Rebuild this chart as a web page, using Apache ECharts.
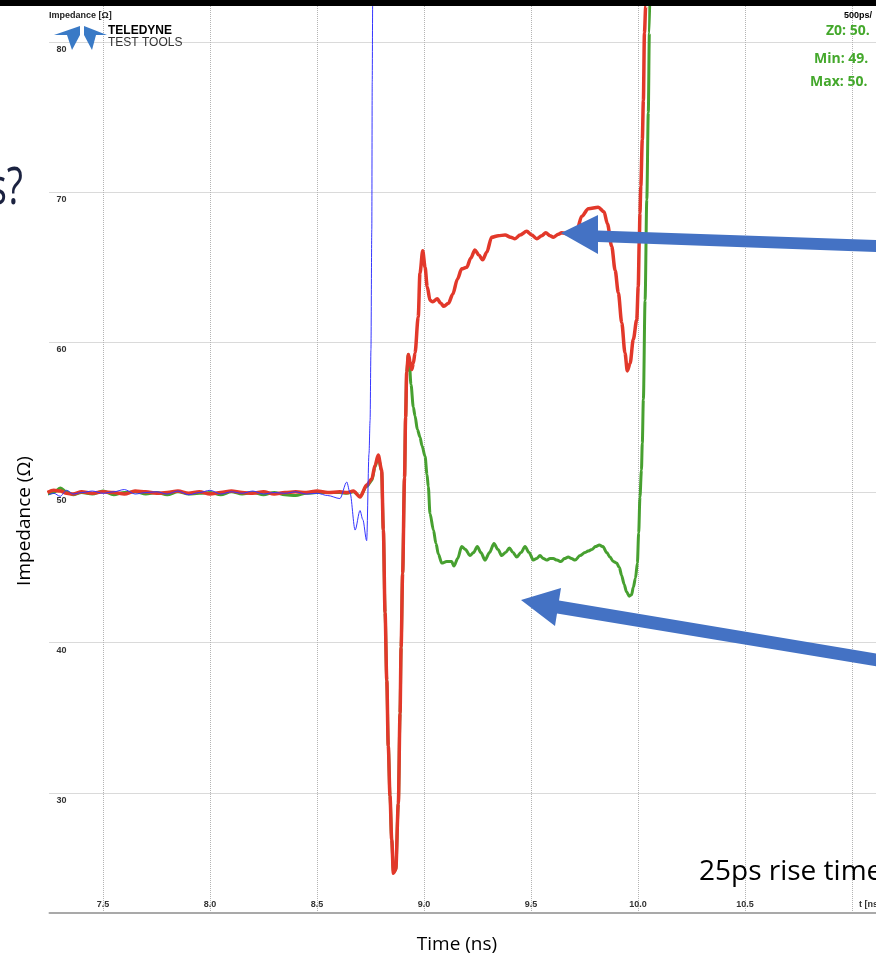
<!DOCTYPE html>
<html><head><meta charset="utf-8">
<script src="https://cdn.jsdelivr.net/npm/echarts@6/dist/echarts.min.js"></script>
<style>html,body{margin:0;padding:0;background:#fff}#c{width:876px;height:959px}</style>
</head><body><div id="c"></div>
<script>
// ---- data (time in ns, impedance in ohm) ----
const baseT = [7.24, 7.27, 7.30, 7.33, 7.36, 7.40, 7.45, 7.50, 7.55, 7.60, 7.65, 7.70, 7.75, 7.80, 7.85, 7.90, 7.95, 8.00, 8.05, 8.10, 8.15, 8.20, 8.25, 8.30, 8.35, 8.40, 8.45, 8.50, 8.55];
const redBaseZ   = [50.0, 50.15, 50.1, 49.95, 49.9, 50.05, 49.95, 50.05, 50.0, 49.9, 50.1, 50.05, 49.95, 50.0, 50.1, 49.95, 50.05, 49.9, 50.0, 50.1, 50.0, 49.95, 50.05, 49.9, 50.0, 50.05, 50.0, 50.1, 50.0];
const greenBaseZ = [49.9, 50.0, 50.3, 50.05, 49.85, 50.0, 49.9, 50.1, 49.85, 50.0, 50.05, 49.9, 50.0, 49.85, 50.05, 49.9, 49.95, 50.0, 49.85, 50.05, 49.9, 50.0, 49.85, 50.0, 49.85, 49.8, 49.95, 50.0, 50.0];
const blueBaseZ  = [49.8, 49.95, 49.75, 50.15, 49.9, 50.0, 50.1, 49.95, 50.05, 50.2, 49.9, 50.0, 50.05, 49.9, 50.1, 49.85, 50.0, 50.15, 49.9, 50.05, 49.95, 50.1, 49.9, 50.0, 49.95, 50.05, 49.9, 49.95, 49.8];

const redT = [8.607, 8.640, 8.670, 8.701, 8.732, 8.756, 8.771, 8.786, 8.802, 8.810, 8.818, 8.826, 8.833, 8.841, 8.849, 8.857, 8.868, 8.880, 8.888, 8.893, 8.900, 8.909, 8.914, 8.919, 8.927, 8.935, 8.943, 8.950, 8.958, 8.973, 8.981, 8.994, 9.005, 9.015, 9.028, 9.041, 9.062, 9.078, 9.093, 9.114, 9.134, 9.156, 9.176, 9.200, 9.218, 9.238, 9.257, 9.274, 9.293, 9.316, 9.347, 9.379, 9.405, 9.425, 9.449, 9.480, 9.503, 9.527, 9.550, 9.569, 9.589, 9.604, 9.628, 9.643, 9.682, 9.715, 9.737, 9.768, 9.814, 9.841, 9.857, 9.877, 9.893, 9.908, 9.924, 9.939, 9.950, 9.963, 9.978, 9.994, 10.001, 10.006, 10.009, 10.013, 10.020, 10.025, 10.030, 10.036, 10.040];
const redZ = [50.05, 50.0, 50.1, 49.7, 50.5, 50.9, 51.8, 52.5, 51.5, 47.5, 42.0, 37.5, 33.1, 29.8, 26.9, 24.65, 24.9, 29.3, 35.3, 39.7, 44.6, 51.0, 55.0, 58.0, 59.2, 58.7, 58.2, 58.6, 59.3, 61.7, 64.6, 66.1, 65.0, 63.7, 62.8, 62.7, 62.9, 62.6, 62.4, 62.6, 63.2, 64.2, 64.9, 65.0, 65.6, 66.15, 65.8, 65.5, 66.0, 67.0, 67.1, 67.15, 67.0, 66.9, 67.15, 67.4, 67.15, 66.9, 67.1, 67.3, 67.1, 67.0, 67.2, 67.3, 67.2, 67.5, 68.4, 68.9, 69.0, 68.7, 67.9, 66.4, 64.8, 63.3, 61.3, 59.3, 58.1, 58.6, 60.2, 61.5, 63.7, 66.8, 68.6, 70.4, 73.5, 76.1, 80.6, 82.4, 86.0];

const greenT = [8.607, 8.640, 8.670, 8.701, 8.732, 8.756, 8.771, 8.786, 8.802, 8.810, 8.818, 8.826, 8.833, 8.841, 8.849, 8.857, 8.868, 8.880, 8.888, 8.893, 8.900, 8.909, 8.914, 8.919, 8.927, 8.931, 8.939, 8.950, 8.958, 8.969, 8.981, 8.991, 9.005, 9.014, 9.020, 9.028, 9.044, 9.056, 9.067, 9.083, 9.106, 9.129, 9.140, 9.157, 9.176, 9.194, 9.215, 9.231, 9.249, 9.266, 9.285, 9.306, 9.327, 9.346, 9.363, 9.381, 9.399, 9.416, 9.433, 9.453, 9.472, 9.491, 9.511, 9.526, 9.542, 9.558, 9.573, 9.589, 9.604, 9.621, 9.640, 9.656, 9.674, 9.689, 9.706, 9.729, 9.752, 9.766, 9.784, 9.801, 9.819, 9.836, 9.854, 9.869, 9.885, 9.900, 9.913, 9.923, 9.935, 9.946, 9.959, 9.970, 9.978, 9.988, 9.997, 10.003, 10.009, 10.016, 10.020, 10.025, 10.033, 10.041, 10.048, 10.053, 10.058];
const greenZ = [50.0, 49.95, 50.05, 49.75, 50.4, 50.8, 51.7, 52.4, 51.4, 47.5, 42.0, 37.5, 33.1, 29.8, 26.9, 24.7, 24.9, 29.3, 35.3, 39.7, 44.6, 51.0, 55.0, 58.0, 59.2, 58.8, 57.2, 55.7, 55.1, 54.2, 53.7, 53.1, 52.4, 51.2, 50.4, 48.6, 47.5, 46.6, 45.9, 45.3, 45.4, 45.4, 45.1, 45.6, 46.4, 46.2, 45.8, 46.0, 46.4, 46.0, 45.5, 46.0, 46.6, 46.2, 45.8, 46.0, 46.3, 46.0, 45.7, 46.0, 46.4, 46.0, 45.5, 45.6, 45.8, 45.6, 45.5, 45.6, 45.6, 45.5, 45.4, 45.6, 45.7, 45.6, 45.5, 45.8, 46.0, 46.1, 46.2, 46.4, 46.5, 46.4, 46.0, 45.7, 45.4, 45.3, 45.0, 44.5, 43.9, 43.4, 43.1, 43.2, 43.7, 44.3, 45.3, 47.3, 49.7, 51.5, 53.3, 56.2, 62.8, 69.5, 75.3, 80.6, 86.0];

const blueT = [8.607, 8.639, 8.654, 8.678, 8.701, 8.714, 8.732, 8.743, 8.748, 8.752, 8.756, 8.758, 8.760, 8.762];
const blueZ = [49.6, 50.7, 50.0, 47.5, 48.8, 48.2, 46.8, 52.6, 54.8, 59.5, 67.5, 77.3, 82.4, 86.0];

const yTicks = [30, 40, 50, 60, 70, 80];
const xTicks = [7.5, 8.0, 8.5, 9.0, 9.5, 10.0, 10.5, 11.0];

// ---- build ----
function zip(t, z) { return t.map((v, i) => [v, z[i]]); }
const redData = zip(baseT, redBaseZ).concat(zip(redT, redZ));
const greenData = zip(baseT, greenBaseZ).concat(zip(greenT, greenZ));
const blueData = zip(baseT, blueBaseZ).concat(zip(blueT, blueZ));

const chart = echarts.init(document.getElementById('c'), null, {renderer: 'canvas'});
const T = 'rgba(0,0,0,0)', G = '#b4b4b4';
const txt = (x, y, text, o) => Object.assign({
  type: 'text', x: x, y: y, z: 100,
  style: Object.assign({text: text, fill: '#000', align: 'left', textAlign: 'left', verticalAlign: 'middle', textVerticalAlign: 'middle',
    fontFamily: 'Open Sans', fontSize: 12}, o.style)
}, o.el || {});
const poly = (pts, fill) => ({type: 'polygon', z: 100, shape: {points: pts}, style: {fill: fill}});

chart.setOption({
  animation: false,
  backgroundColor: '#fff',
  grid: {left: 49.5, right: 0, top: 6, bottom: 46, containLabel: false, outerBoundsMode: 'none'},
  xAxis: {
    type: 'value', min: 7.25, max: 11.112, interval: 0.25,
    axisLine: {show: true, lineStyle: {color: '#a9a9a9', width: 2}},
    axisTick: {show: false},
    splitLine: {show: true, lineStyle: {color: [T, G], type: 'dotted', width: 1}},
    axisLabel: {
      inside: true, margin: 4, color: '#333', fontSize: 9, fontWeight: 'bold', fontFamily: 'Liberation Sans',
      hideOverlap: false,
      formatter: function (v) {
        const hit = xTicks.find(t => Math.abs(t - v) < 1e-6);
        if (hit === undefined) return '';
        if (hit === 11.0) return '{u|t [ns]}';
        return hit.toFixed(1);
      },
      rich: {u: {fontSize: 9, fontWeight: 'bold', color: '#333', fontFamily: 'Liberation Sans', padding: [0, 0, 0, 36]}}
    }
  },
  yAxis: {
    type: 'value', min: 22, max: 82.4, interval: 2,
    axisLine: {show: false}, axisTick: {show: false},
    splitLine: {show: true, lineStyle: {color: [T, T, T, T, G], type: 'dotted', width: 1}},
    axisLabel: {
      inside: true, margin: 7, color: '#333', fontSize: 9, fontWeight: 'bold', fontFamily: 'Liberation Sans',
      verticalAlign: 'top', padding: [3, 0, 0, 0],
      formatter: function (v) { return yTicks.indexOf(v) >= 0 ? String(v) : ''; }
    }
  },
  series: [
    {type: 'line', name: 'green', data: greenData, symbol: 'none', clip: true, z: 2,
      smooth: 0.3, smoothMonotone: 'x',
      lineStyle: {color: '#47a030', width: 3}},
    {type: 'line', name: 'red', data: redData, symbol: 'none', clip: true, z: 3,
      smooth: 0.3, smoothMonotone: 'x',
      lineStyle: {color: '#e2382a', width: 3.5}},
    {type: 'line', name: 'blue', data: blueData, symbol: 'none', clip: true, z: 4,
      smooth: 0.3, smoothMonotone: 'x',
      lineStyle: {color: '#3535ff', width: 1}}
  ],
  graphic: {elements: [
    {type: 'rect', z: 100, shape: {x: 0, y: 0, width: 876, height: 6}, style: {fill: '#000'}},
    txt(23, 189, 's?', {style: {fontSize: 52, fill: '#1b2240', align: 'right', textAlign: 'right'}, el: {scaleX: 0.72, originX: 0}}),
    txt(25, 521, 'Impedance (Ω)', {style: {fontSize: 19, align: 'center', textAlign: 'center'}, el: {rotation: Math.PI / 2}}),
    txt(457, 945, 'Time (ns)', {style: {fontSize: 19, align: 'center', textAlign: 'center'}}),
    txt(699, 872, '25ps rise time', {style: {fontSize: 28}}),
    txt(49, 16, 'Impedance [Ω]', {style: {fontSize: 9, fontWeight: 'bold', fontFamily: 'Liberation Sans', fill: '#222'}}),
    poly([[54, 35], [80, 26], [80, 35]], '#3a7ac6'),
    poly([[67, 35], [80, 35], [72, 50]], '#3a7ac6'),
    poly([[84, 26], [107, 35], [84, 35]], '#3a7ac6'),
    poly([[84, 35], [96, 35], [92, 50]], '#3a7ac6'),
    txt(108, 31, 'TELEDYNE', {style: {fontSize: 12, fontWeight: 'bold', fontFamily: 'Liberation Sans'}}),
    txt(108, 43, 'TEST TOOLS', {style: {fontSize: 12, fontFamily: 'Liberation Sans', fill: '#333'}}),
    txt(844, 16, '500ps/', {style: {fontSize: 9, fontWeight: 'bold', fontFamily: 'Liberation Sans'}}),
    txt(826, 31, 'Z0: 50.', {style: {fontSize: 14, fontWeight: 'bold', fontFamily: 'Open Sans', fill: '#44a82c'}}),
    txt(814, 59, 'Min: 49.', {style: {fontSize: 14, fontWeight: 'bold', fontFamily: 'Open Sans', fill: '#44a82c'}}),
    txt(810, 82, 'Max: 50.', {style: {fontSize: 14, fontWeight: 'bold', fontFamily: 'Open Sans', fill: '#44a82c'}}),
    poly([[561, 233], [598, 215], [598, 230.5], [876, 240], [876, 252], [598, 242], [598, 254]], '#4472c4'),
    poly([[521, 600], [561, 588], [559, 600.6], [877, 653.6], [877, 666.4], [557, 613.4], [555, 626]], '#4472c4')
  ]}
});
</script>
</body></html>
